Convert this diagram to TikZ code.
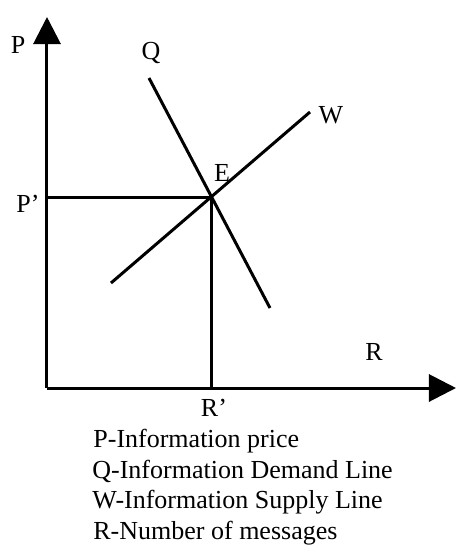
\documentclass[tikz,border=0pt]{standalone}
\usepackage{fontspec}
\setmainfont{Liberation Serif}
\usetikzlibrary{arrows.meta}
\tikzset{
  fig/axis/.style ={line width=1.5pt, -{Triangle[length=13.5pt, width=13.5pt]}},
  fig/line/.style ={line width=1.5pt},
  fig/label/.style={font=\fontsize{13}{16}\selectfont, inner sep=0pt},
  fig/key/.style  ={font=\fontsize{13}{16}\selectfont, inner sep=0pt, anchor=west}
}

\begin{document}
\begin{tikzpicture}[x=0.5pt, y=-0.5pt]
    \useasboundingbox (0,0) rectangle (456,554);

    % --- axes ---
    \coordinate (o)    at (47,388);
    \coordinate (ptop) at (47,17);
    \coordinate (rend) at (456,388);
    \draw[fig/axis] (o) -- (ptop);
    \draw[fig/axis] (o) -- (rend);

    % --- equilibrium ---
    \coordinate (e)  at (212,197);
    \coordinate (pp) at (47,197);
    \coordinate (rp) at (212,388);
    \draw[fig/line] (pp) -- (e);
    \draw[fig/line] (e) -- (rp);

    % --- demand and supply lines ---
    \coordinate (q1) at (149,78);
    \coordinate (q2) at (270,308);
    \coordinate (w1) at (111,283);
    \coordinate (w2) at (310,112);
    \draw[fig/line] (q1) -- (q2);
    \draw[fig/line] (w1) -- (w2);

    % --- labels ---
    \node[fig/label] (lp)  at (18,45)   {P};
    \node[fig/label] (lq)  at (151,53)  {Q};
    \node[fig/label] (lw)  at (331,115) {W};
    \node[fig/label] (le)  at (222,173) {E};
    \node[fig/label] (lpp) at (28,204)  {P’};
    \node[fig/label] (lr)  at (374,352) {R};
    \node[fig/label] (lrp) at (214,408) {R’};

    % --- key ---
    \node[fig/key] (k1) at (93,441) {P-Information price};
    \node[fig/key] (k2) at (92,471) {Q-Information Demand Line};
    \node[fig/key] (k3) at (92,502) {W-Information Supply Line};
    \node[fig/key] (k4) at (93,533) {R-Number of messages};
\end{tikzpicture}
\end{document}
